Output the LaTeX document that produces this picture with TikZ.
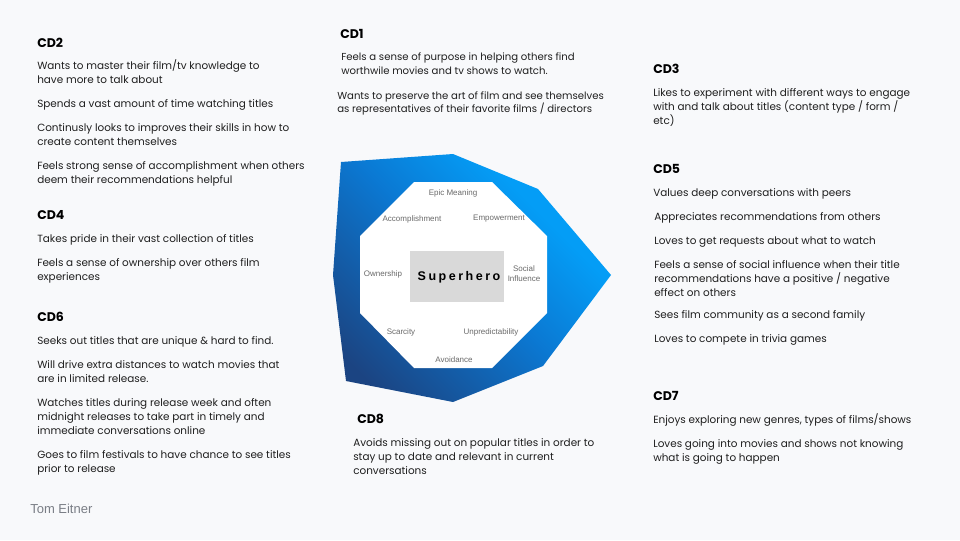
\documentclass[tikz,border=0pt]{standalone}
\usepackage{fontspec}
\setmainfont{Poppins}
\newfontfamily\labfam{Liberation Sans}
\newfontfamily\herofam{Liberation Sans}[LetterSpace=20]
\definecolor{bg}{HTML}{F8F9FB}
\definecolor{txt}{HTML}{1F1F1F}
\definecolor{labgray}{HTML}{6A6A6A}
\definecolor{boxgray}{HTML}{D9D9D9}
\definecolor{navy}{HTML}{1B4482}
\definecolor{midblue}{HTML}{0B78D2}
\definecolor{bright}{HTML}{049DF6}
\definecolor{authgray}{HTML}{7A7E86}
\pgfdeclarehorizontalshading{bluegrad}{100bp}{color(0bp)=(navy); color(22bp)=(navy); color(50bp)=(midblue); color(68bp)=(bright); color(100bp)=(bright)}
\tikzset{
  body/.style={font=\fontsize{7.82pt}{10.5pt}\selectfont, text=txt, inner sep=0pt, anchor=base west},
  bodys/.style={body, font=\fontsize{7.6pt}{10.5pt}\selectfont},
  head/.style={font=\fontsize{9.4pt}{10pt}\selectfont\bfseries, text=black, inner sep=0pt, anchor=base west},
  lab/.style={font=\labfam\fontsize{6pt}{7.5pt}\selectfont, text=labgray, inner sep=0pt, align=center},
  hero/.style={font=\herofam\fontsize{9.4pt}{10pt}\selectfont\bfseries, text=black, inner sep=0pt},
  author/.style={font=\labfam\fontsize{9.75pt}{11pt}\selectfont, text=authgray, inner sep=0pt, anchor=base west}
}
\newcommand\TL[4]{\node[body] (#1) at (#2,#3) {#4};}
\newcommand\TS[4]{\node[bodys] (#1) at (#2,#3) {#4};}
\begin{document}
\begin{tikzpicture}[x=0.75pt,y=-0.75pt]
\fill[bg] (0,0) rectangle (960,540);
\useasboundingbox (0,0) rectangle (960,540);
% outer gradient polygon
\path[shading=bluegrad, shading angle=45]
  (341,162) -- (453,154) -- (538,189) -- (611,275) -- (543,366) -- (453,402) -- (346,381) -- (333,275) -- cycle;
% white octagon
\fill[white] (414,182) -- (492,182) -- (547,236) -- (547,313) -- (492,368) -- (414,368) -- (360,313) -- (360,236) -- cycle;
% gray box
\fill[boxgray] (410,251) rectangle (504,302);
\node[hero] (hero) at (459,277) {Superhero};
% octagon labels
\node[lab] (epic) at (453,193) {Epic Meaning};
\node[lab] (accomp) at (412,219) {Accomplishment};
\node[lab] (empow) at (499,219) {Empowerment};
\node[lab] (owner) at (383,274) {Ownership};
\node[lab] (social) at (524,274) {Social\\Influence};
\node[lab] (scarc) at (401,332) {Scarcity};
\node[lab] (unpred) at (491,332) {Unpredictability};
\node[lab] (avoid) at (454,360) {Avoidance};
% CD2
\node[head] (cd2) at (37,47.5) {CD2};
\TL{cd2a}{37}{69}{Wants to master their film/tv knowledge to}
\TL{cd2b}{37}{83}{have more to talk about}
\TL{cd2c}{37}{107}{Spends a vast amount of time watching titles}
\TL{cd2d}{37}{131}{Continusly looks to improves their skills in how to}
\TL{cd2e}{37}{145}{create content themselves}
\TL{cd2f}{37}{169}{Feels strong sense of accomplishment when others}
\TL{cd2g}{37}{183}{deem their recommendations helpful}
% CD4
\node[head] (cd4) at (37,219.5) {CD4};
\TL{cd4a}{37}{242}{Takes pride in their vast collection of titles}
\TL{cd4b}{37}{266}{Feels a sense of ownership over others film}
\TL{cd4c}{37}{280}{experiences}
% CD6
\node[head] (cd6) at (37,321.5) {CD6};
\TL{cd6a}{37}{344}{Seeks out titles that are unique \& hard to find.}
\TL{cd6b}{37}{368}{Will drive extra distances to watch movies that}
\TL{cd6c}{37}{382}{are in limited release.}
\TL{cd6d}{37}{406}{Watches titles during release week and often}
\TL{cd6e}{37}{420}{midnight releases to take part in timely and}
\TL{cd6f}{37}{434}{immediate conversations online}
\TL{cd6g}{37}{458}{Goes to film festivals to have chance to see titles}
\TL{cd6h}{37}{472}{prior to release}
% CD1
\node[head] (cd1) at (340,38.5) {CD1};
\TS{cd1a}{341}{60}{Feels a sense of purpose in helping others find}
\TS{cd1b}{341}{74}{worthwile movies and tv shows to watch.}
\TS{cd1c}{337}{99}{Wants to preserve the art of film and see themselves}
\TS{cd1d}{337}{112.5}{as representatives of their favorite films / directors}
% CD3
\node[head] (cd3) at (653,73.5) {CD3};
\TL{cd3a}{653}{96}{Likes to experiment with different ways to engage}
\TL{cd3b}{653}{110}{with and talk about titles (content type / form /}
\TL{cd3c}{653}{124}{etc)}
% CD5
\node[head] (cd5) at (653,173.5) {CD5};
\TL{cd5a}{653}{196}{Values deep conversations with peers}
\TL{cd5b}{654}{220}{Appreciates recommendations from others}
\TL{cd5c}{654}{244}{Loves to get requests about what to watch}
\TL{cd5d}{654}{268}{Feels a sense of social influence when their title}
\TL{cd5e}{654}{282}{recommendations have a positive / negative}
\TL{cd5f}{654}{296}{effect on others}
\TL{cd5g}{654}{318}{Sees film community as a second family}
\TL{cd5h}{654}{342}{Loves to compete in trivia games}
% CD7
\node[head] (cd7) at (653,400.5) {CD7};
\TL{cd7a}{653}{423}{Enjoys exploring new genres, types of films/shows}
\TL{cd7b}{653}{447}{Loves going into movies and shows not knowing}
\TL{cd7c}{653}{461}{what is going to happen}
% CD8
\node[head] (cd8) at (357,423.5) {CD8};
\TL{cd8a}{353}{446}{Avoids missing out on popular titles in order to}
\TL{cd8b}{353}{460}{stay up to date and relevant in current}
\TL{cd8c}{353}{474}{conversations}
% author
\node[author] (auth) at (30,513.5) {Tom Eitner};
\end{tikzpicture}
\end{document}
